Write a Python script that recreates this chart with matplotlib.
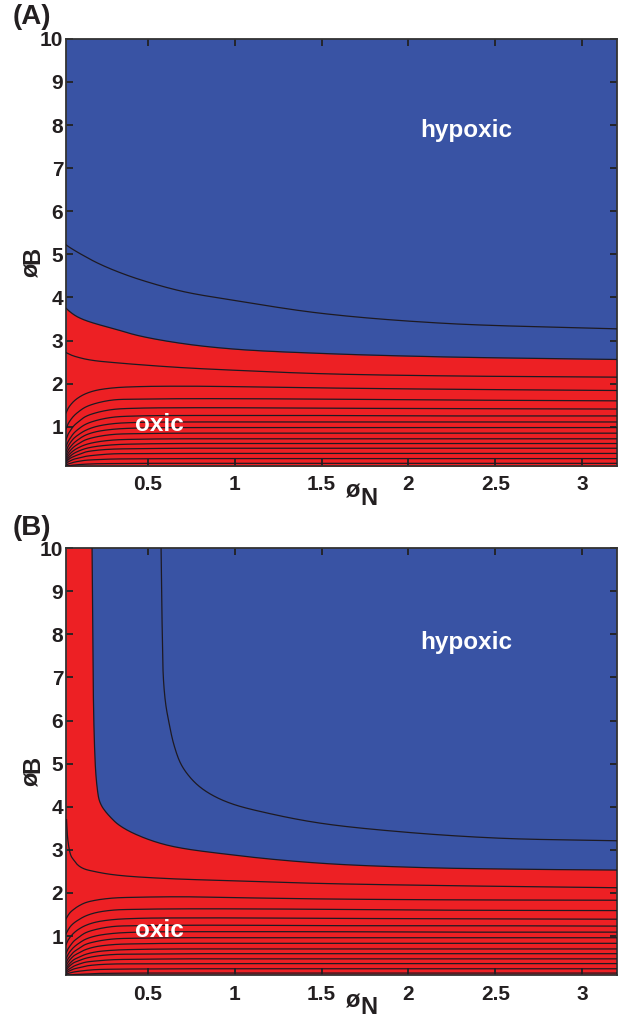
import numpy as np
import matplotlib
matplotlib.use("Agg")
import matplotlib.pyplot as plt

plt.rcParams['font.family'] = ['Liberation Sans', 'DejaVu Sans']
plt.rcParams['font.weight'] = 'bold'

# ---------------- data ----------------
XLIM = (0.03, 3.2)
YLIM = (0.1, 10.0)
XTICKS = [0.5, 1, 1.5, 2, 2.5, 3]
XTICKLABELS = ['0.5', '1', '1.5', '2', '2.5', '3']
YTICKS = [1, 2, 3, 4, 5, 6, 7, 8, 9, 10]

# common phi_N sample positions for the curves that are functions of phi_N
XS = [0.03, 0.04, 0.055, 0.075, 0.1, 0.14, 0.2, 0.3, 0.45, 0.7, 1.0, 1.5, 2.2, 3.2]

# ---- panel A ----
A_TOP      = [5.22, 5.19, 5.15, 5.10, 5.04, 4.95, 4.82, 4.64, 4.42, 4.14, 3.93, 3.63, 3.40, 3.27]
A_BOUNDARY = [3.75, 3.71, 3.66, 3.60, 3.54, 3.47, 3.39, 3.28, 3.11, 2.93, 2.80, 2.70, 2.62, 2.56]
A_L1  = [2.72, 2.70, 2.67, 2.64, 2.61, 2.57, 2.53, 2.49, 2.44, 2.37, 2.31, 2.23, 2.18, 2.15]
A_L2  = [1.32, 1.41, 1.50, 1.59, 1.67, 1.76, 1.84, 1.90, 1.93, 1.94, 1.93, 1.90, 1.87, 1.84]
A_L3  = [0.95, 1.05, 1.15, 1.25, 1.34, 1.45, 1.54, 1.62, 1.64, 1.65, 1.65, 1.64, 1.62, 1.60]
A_L4  = [0.70, 0.81, 0.91, 1.02, 1.11, 1.23, 1.32, 1.40, 1.43, 1.44, 1.44, 1.43, 1.42, 1.41]
A_L5  = [0.54, 0.64, 0.74, 0.85, 0.94, 1.05, 1.14, 1.22, 1.25, 1.26, 1.26, 1.26, 1.25, 1.25]
A_L6  = [0.43, 0.53, 0.63, 0.73, 0.81, 0.91, 1.00, 1.07, 1.10, 1.11, 1.11, 1.11, 1.11, 1.11]
A_L7  = [0.35, 0.44, 0.53, 0.62, 0.70, 0.80, 0.88, 0.94, 0.97, 0.98, 0.98, 0.98, 0.98, 0.98]
A_L8  = [0.29, 0.37, 0.45, 0.53, 0.60, 0.69, 0.76, 0.82, 0.84, 0.85, 0.85, 0.85, 0.85, 0.85]
A_L9  = [0.24, 0.31, 0.38, 0.45, 0.51, 0.58, 0.64, 0.69, 0.71, 0.72, 0.72, 0.72, 0.72, 0.72]
A_L10 = [0.20, 0.26, 0.32, 0.38, 0.43, 0.49, 0.54, 0.58, 0.60, 0.61, 0.61, 0.61, 0.61, 0.61]
A_L11 = [0.17, 0.22, 0.27, 0.31, 0.35, 0.41, 0.45, 0.48, 0.49, 0.50, 0.50, 0.50, 0.50, 0.50]
A_L12 = [0.14, 0.175, 0.21, 0.245, 0.27, 0.31, 0.34, 0.37, 0.375, 0.38, 0.38, 0.38, 0.38, 0.38]
A_L13 = [0.11, 0.13, 0.15, 0.175, 0.195, 0.22, 0.235, 0.25, 0.255, 0.26, 0.26, 0.26, 0.26, 0.26]
A_L14 = [0.08, 0.09, 0.10, 0.11, 0.12, 0.13, 0.14, 0.145, 0.15, 0.15, 0.15, 0.15, 0.15, 0.15]

# ---- panel B ----
B_BOUNDARY_X = [0.180, 0.183, 0.186, 0.190, 0.195, 0.201, 0.209, 0.220, 0.235, 0.255, 0.285,
                0.33, 0.42, 0.61, 0.99, 1.49, 2.06, 2.63, 3.2]
B_BOUNDARY_Y = [10.0, 8.5, 7.0, 6.0, 5.3, 4.8, 4.45, 4.17, 4.02, 3.90, 3.76,
                3.59, 3.38, 3.11, 2.88, 2.69, 2.59, 2.55, 2.53]
B_TOP_X = [0.577, 0.580, 0.584, 0.590, 0.603, 0.620, 0.650, 0.690, 0.74, 0.80, 0.88, 0.99,
           1.18, 1.49, 1.95, 2.52, 3.2]
B_TOP_Y = [10.0, 9.0, 8.0, 7.0, 6.4, 6.0, 5.45, 5.0, 4.70, 4.46, 4.25, 4.06,
           3.86, 3.62, 3.42, 3.27, 3.21]
B_L1_X = [0.033, 0.036, 0.04, 0.045, 0.05, 0.06, 0.075, 0.09, 0.11, 0.14, 0.19, 0.27, 0.38, 0.63,
          1.0, 1.49, 2.2, 3.2]
B_L1_Y = [3.70, 3.45, 3.25, 3.10, 2.98, 2.85, 2.76, 2.68, 2.61, 2.55, 2.50, 2.44, 2.39, 2.33,
          2.28, 2.22, 2.17, 2.12]
B_L2  = [1.40, 1.47, 1.55, 1.62, 1.69, 1.77, 1.83, 1.88, 1.90, 1.91, 1.89, 1.86, 1.84, 1.83]
B_L3  = [1.05, 1.13, 1.22, 1.30, 1.37, 1.46, 1.54, 1.60, 1.62, 1.63, 1.63, 1.62, 1.60, 1.59]
B_L4  = [0.80, 0.89, 0.98, 1.07, 1.15, 1.24, 1.32, 1.38, 1.41, 1.42, 1.42, 1.41, 1.40, 1.39]
B_L5  = [0.60, 0.69, 0.78, 0.88, 0.96, 1.07, 1.15, 1.22, 1.24, 1.25, 1.25, 1.24, 1.24, 1.23]
B_L6  = [0.47, 0.56, 0.65, 0.74, 0.82, 0.92, 1.00, 1.06, 1.09, 1.10, 1.10, 1.10, 1.09, 1.09]
B_L7  = [0.38, 0.46, 0.54, 0.63, 0.70, 0.80, 0.87, 0.93, 0.95, 0.96, 0.96, 0.96, 0.96, 0.96]
B_L8  = [0.31, 0.38, 0.46, 0.54, 0.60, 0.68, 0.75, 0.80, 0.82, 0.83, 0.83, 0.83, 0.83, 0.83]
B_L9  = [0.25, 0.31, 0.38, 0.45, 0.50, 0.57, 0.63, 0.67, 0.69, 0.70, 0.70, 0.70, 0.70, 0.70]
B_L10 = [0.21, 0.26, 0.32, 0.38, 0.42, 0.48, 0.53, 0.57, 0.58, 0.59, 0.59, 0.59, 0.59, 0.59]
B_L11 = [0.17, 0.21, 0.25, 0.30, 0.34, 0.39, 0.42, 0.45, 0.46, 0.47, 0.47, 0.47, 0.47, 0.47]
B_L12 = [0.14, 0.17, 0.20, 0.235, 0.26, 0.30, 0.33, 0.35, 0.355, 0.36, 0.36, 0.36, 0.36, 0.36]
B_L13 = [0.11, 0.13, 0.145, 0.165, 0.18, 0.20, 0.22, 0.23, 0.235, 0.24, 0.24, 0.24, 0.24, 0.24]
B_L14 = [0.08, 0.09, 0.095, 0.105, 0.11, 0.12, 0.13, 0.135, 0.14, 0.14, 0.14, 0.14, 0.14, 0.14]

REGION_LABELS = ['hypoxic', 'oxic']
A_LABEL_POS = [(2.33, 7.88), (0.57, 1.04)]
B_LABEL_POS = [(2.33, 7.82), (0.57, 1.12)]

RED = '#ED2024'
BLUE = '#3953A4'
LINE = '#1e1a22'

# ---------------- helpers ----------------
SX, SY = 551 / 3.17, 427 / 9.9   # approx pixel scale, used only for smoothing


def smooth(xs, ys, n=24):
    """centripetal Catmull-Rom through the read points (rendering aid)."""
    P = np.column_stack([np.asarray(xs, float) * SX, np.asarray(ys, float) * SY])
    P = np.vstack([2 * P[0] - P[1], P, 2 * P[-1] - P[-2]])
    out = []
    for i in range(len(P) - 3):
        p0, p1, p2, p3 = P[i:i + 4]
        t0 = 0.0
        t1 = t0 + max(np.linalg.norm(p1 - p0), 1e-6) ** 0.5
        t2 = t1 + max(np.linalg.norm(p2 - p1), 1e-6) ** 0.5
        t3 = t2 + max(np.linalg.norm(p3 - p2), 1e-6) ** 0.5
        t = np.linspace(t1, t2, n)[:, None]
        A1 = (t1 - t) / (t1 - t0) * p0 + (t - t0) / (t1 - t0) * p1
        A2 = (t2 - t) / (t2 - t1) * p1 + (t - t1) / (t2 - t1) * p2
        A3 = (t3 - t) / (t3 - t2) * p2 + (t - t2) / (t3 - t2) * p3
        B1 = (t2 - t) / (t2 - t0) * A1 + (t - t0) / (t2 - t0) * A2
        B2 = (t3 - t) / (t3 - t1) * A2 + (t - t1) / (t3 - t1) * A3
        C = (t2 - t) / (t2 - t1) * B1 + (t - t1) / (t2 - t1) * B2
        out.append(C if i == 0 else C[1:])
    C = np.vstack(out)
    return C[:, 0] / SX, C[:, 1] / SY


def style_axes(ax):
    ax.set_xlim(*XLIM)
    ax.set_ylim(*YLIM)
    ax.set_xticks(XTICKS)
    ax.set_xticklabels(XTICKLABELS)
    ax.set_yticks(YTICKS)
    ax.tick_params(direction='in', top=True, right=True, length=5, width=1.3,
                   color='#222222', labelsize=15, pad=7)
    ax.tick_params(axis='y', pad=2)
    for lab in ax.get_xticklabels() + ax.get_yticklabels():
        lab.set_fontweight('bold')
        lab.set_color('#231f20')
    for s in ax.spines.values():
        s.set_linewidth(1.3)
        s.set_color('#333333')


fig = plt.figure(figsize=(6.27, 10.29), dpi=100)
W, H = 627.0, 1029.0
axA = fig.add_axes([66 / W, 1 - 465.5 / H, 551 / W, 426.7 / H])
axB = fig.add_axes([66 / W, 1 - 974.8 / H, 551 / W, 426.7 / H])

# ---------------- panel A ----------------
axA.set_facecolor(BLUE)
bx, by = smooth(XS, A_BOUNDARY)
axA.fill_between(bx, 0, by, color=RED, lw=0, zorder=1)
axA.plot(bx, by, color=LINE, lw=0.9, zorder=3)
for ys in [A_TOP, A_L1, A_L2, A_L3, A_L4, A_L5, A_L6, A_L7, A_L8, A_L9, A_L10,
           A_L11, A_L12, A_L13, A_L14]:
    cx, cy = smooth(XS, ys)
    axA.plot(cx, cy, color=LINE, lw=0.9, zorder=3)

# ---------------- panel B ----------------
axB.set_facecolor(BLUE)
bx, by = smooth(B_BOUNDARY_X, B_BOUNDARY_Y)
axB.fill(np.concatenate([[0.0, bx[0]], bx, [3.3, 3.3, 0.0]]),
         np.concatenate([[10.5, 10.5], by, [by[-1], 0.0, 0.0]]),
         color=RED, lw=0, zorder=1)
axB.plot(bx, by, color=LINE, lw=0.9, zorder=3)
tx, ty = smooth(B_TOP_X, B_TOP_Y)
axB.plot(tx, ty, color=LINE, lw=0.9, zorder=3)
lx, ly = smooth(B_L1_X, B_L1_Y)
axB.plot(lx, ly, color=LINE, lw=0.9, zorder=3)
for ys in [B_L2, B_L3, B_L4, B_L5, B_L6, B_L7, B_L8, B_L9, B_L10,
           B_L11, B_L12, B_L13, B_L14]:
    cx, cy = smooth(XS, ys)
    axB.plot(cx, cy, color=LINE, lw=0.9, zorder=3)

for ax, pos in [(axA, A_LABEL_POS), (axB, B_LABEL_POS)]:
    style_axes(ax)
    for lab, (x, y) in zip(REGION_LABELS, pos):
        ax.text(x, y, lab, color='white', fontsize=17.5, fontweight='bold',
                ha='center', va='center', zorder=5)

# ---------------- labels ----------------
for tag, top in [('(A)', 4), ('(B)', 515)]:
    fig.text(13 / W, 1 - top / H, tag, fontsize=20, fontweight='bold',
             ha='left', va='top', color='#231f20')

for base in [0.0, 509.3]:
    # x label  "øN"
    fig.text(352 / W, 1 - (498 + base) / H, 'ø', fontsize=17, fontweight='bold',
             ha='center', va='baseline', color='#231f20')
    fig.text(369 / W, 1 - (505 + base) / H, 'N', fontsize=17, fontweight='bold',
             ha='center', va='baseline', color='#231f20')
    # y label "øB"
    fig.text(44 / W, 1 - (271 + base) / H, 'ø', fontsize=17, fontweight='bold',
             rotation=90, ha='right', va='center', color='#231f20')
    fig.text(44 / W, 1 - (255 + base) / H, 'B', fontsize=17, fontweight='bold',
             rotation=90, ha='right', va='center', color='#231f20')

fig.savefig('out.png', dpi=100)
